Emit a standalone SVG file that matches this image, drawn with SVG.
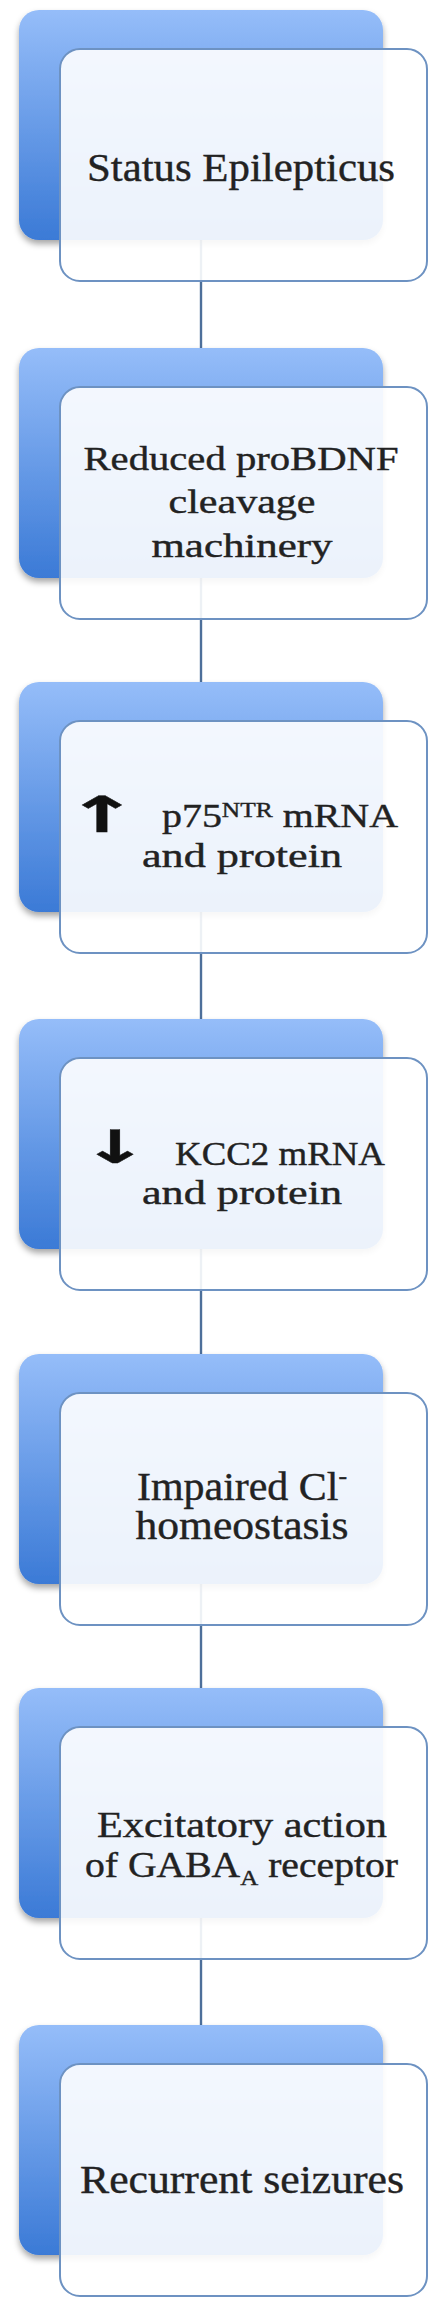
<svg xmlns="http://www.w3.org/2000/svg" width="437" height="2304" viewBox="0 0 437 2304">
<style>
.conn{stroke:#4d6f9a;stroke-width:2.4;fill:none}
.back{fill:url(#blueGrad);filter:url(#shadow)}
.front{fill:#ffffff;fill-opacity:0.9;stroke:#6d92c2;stroke-width:2}
.t{font-family:"Liberation Serif","DejaVu Serif",serif;fill:#222;stroke:#222;stroke-width:0.4;text-anchor:middle}
.ts{font-family:"Liberation Serif","DejaVu Serif",serif;fill:#222;stroke:#222;stroke-width:0.4}
.arr{font-family:"DejaVu Sans",sans-serif;font-weight:bold;fill:#111;stroke:#111;stroke-width:0.4;text-anchor:middle}
</style>
<defs>
<linearGradient id="blueGrad" x1="0" y1="0" x2="0" y2="1">
<stop offset="0" stop-color="#95bdf9"/>
<stop offset="1" stop-color="#3b7ad6"/>
</linearGradient>
<filter id="shadow" x="-10%" y="-10%" width="120%" height="125%">
<feDropShadow dx="0" dy="4" stdDeviation="3" flood-color="#000" flood-opacity="0.35"/>
</filter>
</defs>
<rect width="437" height="2304" fill="#ffffff"/>
<g id="connectors">
<line class="conn" x1="201" y1="150" x2="201" y2="348"/>
<line class="conn" x1="201" y1="488" x2="201" y2="682"/>
<line class="conn" x1="201" y1="822" x2="201" y2="1019"/>
<line class="conn" x1="201" y1="1159" x2="201" y2="1354"/>
<line class="conn" x1="201" y1="1494" x2="201" y2="1688"/>
<line class="conn" x1="201" y1="1828" x2="201" y2="2025"/>
</g>
<g id="node1">
<rect class="back" x="19" y="10" width="364" height="230" rx="20"/>
<rect class="front" x="60" y="49" width="367" height="232" rx="20"/>
<text class="t" x="241" y="181" font-size="40" textLength="308" lengthAdjust="spacingAndGlyphs">Status Epilepticus</text>
</g>
<g id="node2">
<rect class="back" x="19" y="348" width="364" height="230" rx="20"/>
<rect class="front" x="60" y="387" width="367" height="232" rx="20"/>
<text class="t" x="241" y="470" font-size="33" textLength="315" lengthAdjust="spacingAndGlyphs">Reduced proBDNF</text>
<text class="t" x="242" y="513" font-size="33" textLength="147" lengthAdjust="spacingAndGlyphs">cleavage</text>
<text class="t" x="242" y="557" font-size="33" textLength="181" lengthAdjust="spacingAndGlyphs">machinery</text>
</g>
<g id="node3">
<rect class="back" x="19" y="682" width="364" height="230" rx="20"/>
<rect class="front" x="60" y="721" width="367" height="232" rx="20"/>
<text class="arr" transform="translate(102,832) scale(1.75,1)" x="0" y="0" font-size="50">↑</text>
<text class="ts" x="162" y="827" font-size="33" textLength="236" lengthAdjust="spacingAndGlyphs">p75<tspan dy="-10" font-size="21">NTR</tspan><tspan dy="10"> mRNA</tspan></text>
<text class="t" x="242" y="867" font-size="33" textLength="200" lengthAdjust="spacingAndGlyphs">and protein</text>
</g>
<g id="node4">
<rect class="back" x="19" y="1019" width="364" height="230" rx="20"/>
<rect class="front" x="60" y="1058" width="367" height="232" rx="20"/>
<text class="arr" transform="translate(115,1163) scale(1.75,1)" x="0" y="0" font-size="46">↓</text>
<text class="ts" x="175" y="1165" font-size="34" textLength="210" lengthAdjust="spacingAndGlyphs">KCC2 mRNA</text>
<text class="t" x="242" y="1204" font-size="33" textLength="200" lengthAdjust="spacingAndGlyphs">and protein</text>
</g>
<g id="node5">
<rect class="back" x="19" y="1354" width="364" height="230" rx="20"/>
<rect class="front" x="60" y="1393" width="367" height="232" rx="20"/>
<text class="t" x="242" y="1500" font-size="39" textLength="210" lengthAdjust="spacingAndGlyphs">Impaired Cl<tspan dy="-16" font-size="24">-</tspan></text>
<text class="t" x="242" y="1539" font-size="39" textLength="213" lengthAdjust="spacingAndGlyphs">homeostasis</text>
</g>
<g id="node6">
<rect class="back" x="19" y="1688" width="364" height="230" rx="20"/>
<rect class="front" x="60" y="1727" width="367" height="232" rx="20"/>
<text class="t" x="242" y="1837" font-size="35" textLength="290" lengthAdjust="spacingAndGlyphs">Excitatory action</text>
<text class="t" x="241.5" y="1877" font-size="35" textLength="313" lengthAdjust="spacingAndGlyphs">of GABA<tspan dy="8" font-size="22">A</tspan><tspan dy="-8"> receptor</tspan></text>
</g>
<g id="node7">
<rect class="back" x="19" y="2025" width="364" height="230" rx="20"/>
<rect class="front" x="60" y="2064" width="367" height="232" rx="20"/>
<text class="t" x="242" y="2193" font-size="40" textLength="324" lengthAdjust="spacingAndGlyphs">Recurrent seizures</text>
</g>
</svg>
